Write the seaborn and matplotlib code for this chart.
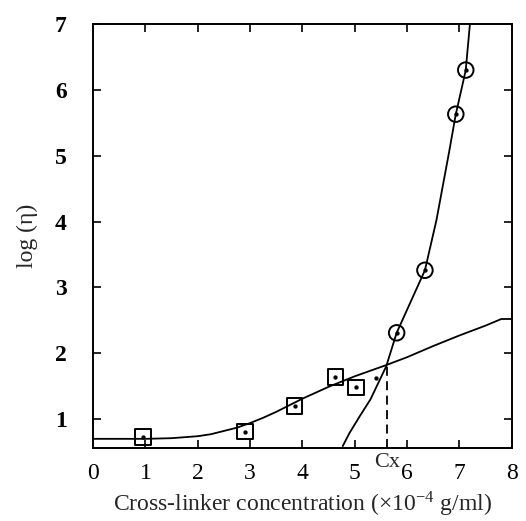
import matplotlib
matplotlib.use("Agg")
import matplotlib.pyplot as plt
import seaborn as sns
import numpy as np
import pandas as pd

# Data
square_x = [0.95, 2.9, 3.85, 4.63, 5.02]
square_y = [0.73, 0.81, 1.20, 1.64, 1.48]
extra_dot_x = [5.4]
extra_dot_y = [1.62]
circle_x = [5.80, 6.34, 6.93, 7.12]
circle_y = [2.31, 3.26, 5.63, 6.30]

low_curve_x = [0.0, 1.0, 1.5, 2.0, 2.25, 2.5, 2.75, 3.0, 3.25, 3.5, 3.75, 4.0, 4.5, 5.0, 5.6,
               6.0, 6.5, 7.0, 7.5, 7.8, 8.0]
low_curve_y = [0.70, 0.70, 0.71, 0.74, 0.77, 0.82, 0.87, 0.94, 1.02, 1.11, 1.21, 1.31, 1.49, 1.65, 1.82,
               1.94, 2.11, 2.27, 2.42, 2.52, 2.52]

high_curve_x = [4.77, 4.9, 5.1, 5.3, 5.6, 5.8, 6.05, 6.34, 6.56, 6.81, 6.93, 7.05, 7.12, 7.20]
high_curve_y = [0.59, 0.79, 1.05, 1.30, 1.80, 2.31, 2.75, 3.26, 4.02, 5.09, 5.63, 6.05, 6.30, 7.00]

cx_value = 5.62
cx_y = 1.80

x_ticks = [0, 1, 2, 3, 4, 5, 6, 7, 8]
y_ticks = [1, 2, 3, 4, 5, 6, 7]

sns.set_theme(style="white")
plt.rcParams['font.family'] = ['Liberation Serif', 'DejaVu Serif']
plt.rcParams['mathtext.fontset'] = 'stix'

fig = plt.figure(figsize=(5.26, 5.21), dpi=100)
ax = fig.add_axes([0.177, 0.140, 0.796, 0.814])

sns.lineplot(x=low_curve_x, y=low_curve_y, ax=ax, color="black", linewidth=1.3, sort=False)
sns.lineplot(x=high_curve_x, y=high_curve_y, ax=ax, color="black", linewidth=1.3, sort=False)

ax.plot([cx_value, cx_value], [0.56, cx_y], color="black", linestyle=(0, (5, 3)), linewidth=1.3)

sns.scatterplot(x=square_x, y=square_y, ax=ax, marker="s", s=125, facecolor="none",
                edgecolor="black", linewidth=1.4, zorder=5)
sns.scatterplot(x=circle_x, y=circle_y, ax=ax, marker="o", s=125, facecolor="none",
                edgecolor="black", linewidth=1.4, zorder=5)
sns.scatterplot(x=square_x + circle_x + extra_dot_x, y=square_y + circle_y + extra_dot_y, ax=ax,
                marker="o", s=8, color="black", edgecolor="black", zorder=6)

ax.set_xlim(0, 8)
ax.set_ylim(0.56, 7)
ax.set_xticks(x_ticks)
ax.set_yticks(y_ticks)
ax.set_xticklabels([str(t) for t in x_ticks], fontsize=17)
ax.set_yticklabels([str(t) for t in y_ticks], fontsize=17, fontweight="bold")
ax.tick_params(axis="both", direction="in", length=6, width=1.2, colors="black",
               top=True, right=True, bottom=True, left=True)
ax.tick_params(axis="x", pad=11)
ax.tick_params(axis="y", pad=19)

for s in ax.spines.values():
    s.set_color("black")
    s.set_linewidth(1.4)

ax.text(cx_value, 0.56 - 0.08, "Cx", ha="center", va="top", fontsize=16)

ax.set_xlabel("Cross-linker concentration (×10$^{\\mathregular{-4}}$ g/ml)", fontsize=17, labelpad=4)
ax.set_ylabel("log (η)", fontsize=17, labelpad=12)

fig.savefig("out.png", dpi=100)
